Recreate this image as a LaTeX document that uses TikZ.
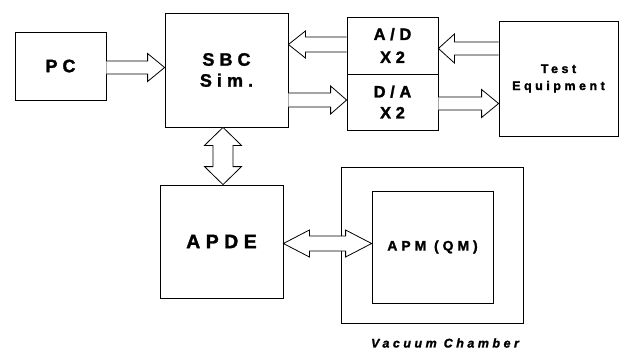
\documentclass[tikz,border=0pt]{standalone}
\usepackage{fontspec}
\setmainfont{Liberation Sans}
\newfontfamily\spfont[LetterSpace=28, BoldFeatures={FakeBold=1.6}, BoldItalicFeatures={FakeBold=1.6}]{Liberation Sans}
\usetikzlibrary{calc}
\tikzset{
  blk/.style={draw, line width=0.8pt, inner sep=0pt, align=center},
  barrow/.style={draw, line width=0.8pt, fill=white, line join=miter},
}
% single horizontal block arrow: start, end (tip), shaft half width, head half width, signed head length
\newcommand\harrow[5]{%
  \draw[barrow] let \p1=(#1), \p2=(#2) in
   (\x1,\y1+#3) -- (\x2+#5,\y1+#3) -- (\x2+#5,\y1+#4) -- (\x2,\y1)
   -- (\x2+#5,\y1-#4) -- (\x2+#5,\y1-#3) -- (\x1,\y1-#3);}
% horizontal double block arrow: left tip, right tip, shaft hw, head hw, head length
\newcommand\hdarrow[5]{%
  \draw[barrow] let \p1=(#1), \p2=(#2) in
   (\x1,\y1) -- (\x1+#5,\y1+#4) -- (\x1+#5,\y1+#3) -- (\x2-#5,\y1+#3)
   -- (\x2-#5,\y1+#4) -- (\x2,\y1) -- (\x2-#5,\y1-#4) -- (\x2-#5,\y1-#3)
   -- (\x1+#5,\y1-#3) -- (\x1+#5,\y1-#4) -- cycle;}
% vertical double block arrow: top tip, bottom tip, shaft hw, head hw, head length
\newcommand\vdarrow[5]{%
  \draw[barrow] let \p1=(#1), \p2=(#2) in
   (\x1,\y1) -- (\x1+#4,\y1-#5) -- (\x1+#3,\y1-#5) -- (\x1+#3,\y2+#5)
   -- (\x1+#4,\y2+#5) -- (\x1,\y2) -- (\x1-#4,\y2+#5) -- (\x1-#3,\y2+#5)
   -- (\x1-#3,\y1-#5) -- (\x1-#4,\y1-#5) -- cycle;}
\begin{document}
\begin{tikzpicture}[x=1pt,y=-1pt]
\fill[white] (0,0) rectangle (624,354);
\useasboundingbox (0,0) rectangle (624,354);

% boxes
\node[blk, minimum width=91pt, minimum height=68pt,
  font=\spfont\bfseries\fontsize{18}{21}\selectfont] (pc) at (60.5,66) {PC};
\node[blk, minimum width=123pt, minimum height=114pt,
  font=\spfont\bfseries\fontsize{18}{21}\selectfont] (sbc) at (226.5,70) {SBC\\Sim.};
\node[blk, minimum width=91pt, minimum height=57pt,
  font=\spfont\bfseries\fontsize{16.5}{23}\selectfont] (ad) at (392.5,45.5) {A/D\\X2};
\node[blk, minimum width=91pt, minimum height=56pt,
  font=\spfont\bfseries\fontsize{16.5}{21}\selectfont] (da) at (392.5,102) {D/A\\X2};
\node[blk, minimum width=119pt, minimum height=115pt,
  font=\spfont\bfseries\fontsize{12.5}{17}\selectfont] (te) at (558.5,78.5) {Test\\Equipment};
\node[blk, minimum width=123pt, minimum height=113pt,
  font=\spfont\bfseries\fontsize{19.5}{23}\selectfont] (apde) at (221.5,241.5) {APDE};
\node[blk, minimum width=182pt, minimum height=156pt] (vc) at (432,245) {};
\node[blk, minimum width=121pt, minimum height=112pt,
  font=\spfont\bfseries\fontsize{14}{17}\selectfont] (apm) at (432.5,247) {APM (QM)};
\node[font=\spfont\bfseries\itshape\fontsize{12.5}{14}\selectfont] (vclabel) at (445,343) {Vacuum Chamber};

% arrow end points
\coordinate (a1s) at (pc.east |- 0,67.5);   \coordinate (a1e) at (sbc.west |- 0,67.5);
\coordinate (a2s) at (ad.west |- 0,44.5);   \coordinate (a2e) at (sbc.east |- 0,44.5);
\coordinate (a3s) at (sbc.east |- 0,100);   \coordinate (a3e) at (da.west |- 0,100);
\coordinate (a4s) at (te.west |- 0,48.5);   \coordinate (a4e) at (ad.east |- 0,48.5);
\coordinate (a5s) at (da.east |- 0,103.5);  \coordinate (a5e) at (te.west |- 0,103.5);
\coordinate (a6t) at (sbc.south -| 223,0);  \coordinate (a6b) at (apde.north -| 223,0);
\coordinate (a7l) at (apde.east |- 0,243.5); \coordinate (a7r) at (apm.west |- 0,243.5);

% arrows
\harrow{a1s}{a1e}{6.5pt}{14pt}{-17pt}
\harrow{a2s}{a2e}{7.5pt}{13.5pt}{17pt}
\harrow{a3s}{a3e}{7pt}{14pt}{-16pt}
\harrow{a4s}{a4e}{6.5pt}{14.5pt}{16pt}
\harrow{a5s}{a5e}{6.5pt}{14pt}{-17pt}
\vdarrow{a6t}{a6b}{10pt}{18.5pt}{18pt}
\hdarrow{a7l}{a7r}{7.5pt}{13.5pt}{26pt}
\end{tikzpicture}
\end{document}
